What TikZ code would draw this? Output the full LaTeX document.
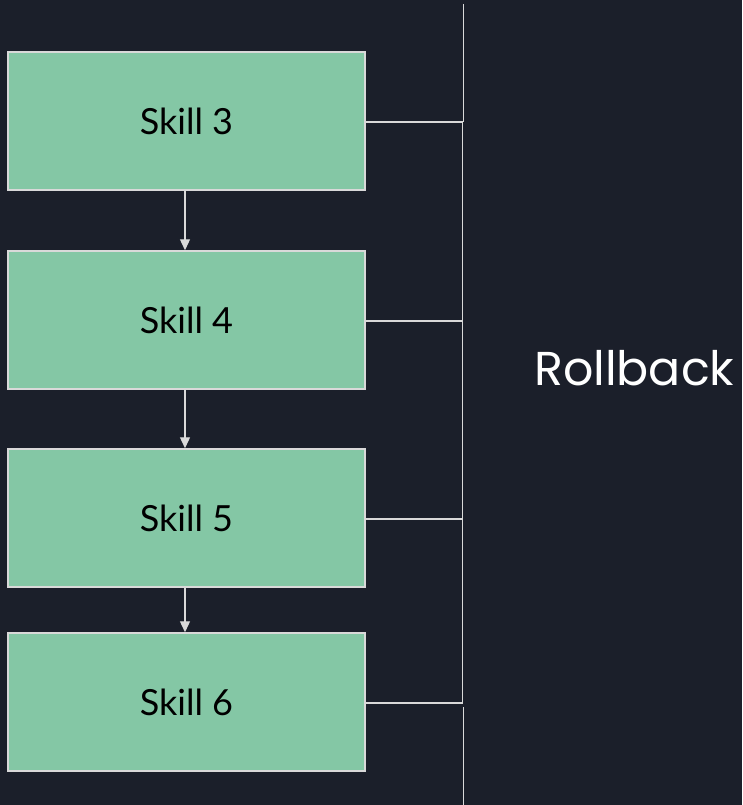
\documentclass[tikz,border=0pt]{standalone}
\usepackage{fontspec}
\setmainfont{Lato}
\newfontfamily\rbfont{Poppins}
\usetikzlibrary{arrows.meta}
\definecolor{bg}{HTML}{1B1F2A}
\definecolor{boxfill}{HTML}{84C7A5}
\definecolor{ln}{HTML}{D9D9D9}
\tikzset{
  skillbox/.style={draw=ln, line width=1.5pt, fill=boxfill, minimum width=357pt, minimum height=138pt, inner sep=0pt, font=\fontsize{36}{40}\selectfont, text=black},
  link/.style={draw=ln, line width=1.4pt},
  flow/.style={draw=ln, line width=1.3pt, -{Triangle[width=10pt,length=11pt]}},
}
\begin{document}
\begin{tikzpicture}[x=1pt,y=-1pt]
\fill[bg] (0,0) rectangle (742,805);
\useasboundingbox (0,0) rectangle (742,805);
\node[skillbox] (s3) at (186.5,121) {Skill 3};
\node[skillbox] (s4) at (186.5,320) {Skill 4};
\node[skillbox] (s5) at (186.5,518) {Skill 5};
\node[skillbox] (s6) at (186.5,702) {Skill 6};
\draw[flow] (s3.south) ++(-1.5,0) coordinate (a3) -- (a3 |- s4.north);
\draw[flow] (s4.south) ++(-1.5,0) coordinate (a4) -- (a4 |- s5.north);
\draw[flow] (s5.south) ++(-1.5,0) coordinate (a5) -- (a5 |- s6.north);
\coordinate (top) at (463.5,4);
\coordinate (j3) at (462.5,122);
\coordinate (j4) at (462.5,321);
\coordinate (j5) at (462.5,519);
\coordinate (j6) at (462.5,703);
\coordinate (b1) at (463.5,707);
\coordinate (b2) at (463.5,805);
\draw[link] (top) -- (top |- j3);
\draw[link] (j3) -- (j6);
\draw[link] (b1) -- (b2);
\draw[link] (s3.east |- j3) -- (j3);
\draw[link] (s4.east |- j4) -- (j4);
\draw[link] (s5.east |- j5) -- (j5);
\draw[link] (s6.east |- j6) -- (j6);
\node[anchor=base west, inner sep=0pt, text=white, font=\rbfont\fontsize{47.5}{52}\selectfont] (rb) at (534,385) {Rollback};
\end{tikzpicture}
\end{document}
